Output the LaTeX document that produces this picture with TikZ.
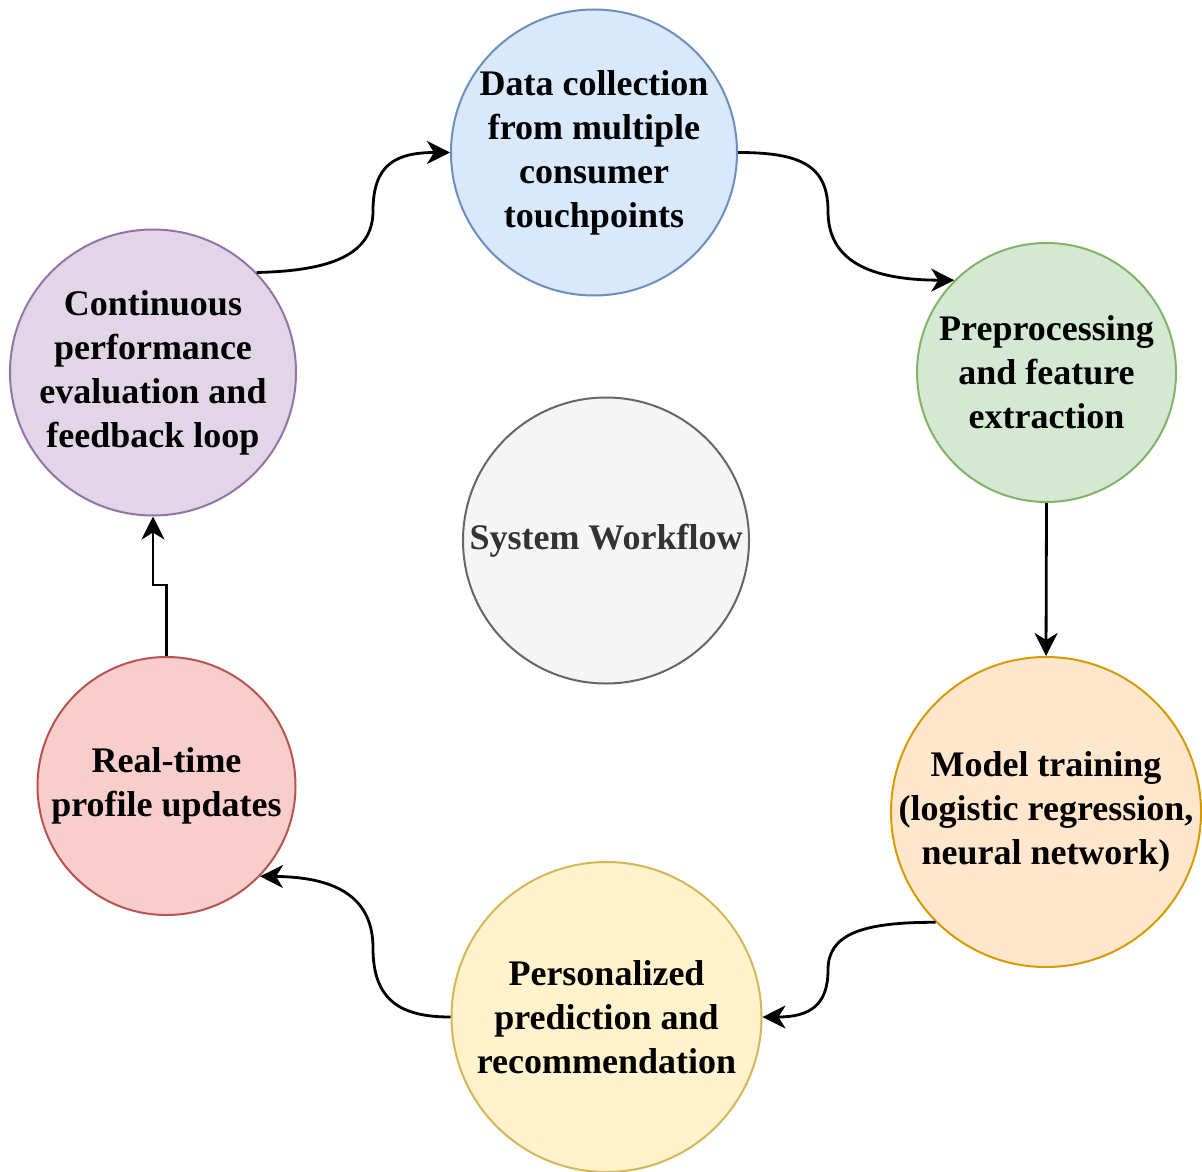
\documentclass[tikz,border=0pt]{standalone}
\usepackage{fontspec}
\setmainfont{Liberation Serif}
\usetikzlibrary{arrows.meta}

\definecolor{blueF}{HTML}{DAE8FC}\definecolor{blueD}{HTML}{6C8EBF}
\definecolor{greenF}{HTML}{D5E8D4}\definecolor{greenD}{HTML}{82B366}
\definecolor{orangeF}{HTML}{FFE6CC}\definecolor{orangeD}{HTML}{D79B00}
\definecolor{yellowF}{HTML}{FFF2CC}\definecolor{yellowD}{HTML}{D6B656}
\definecolor{redF}{HTML}{F8CECC}\definecolor{redD}{HTML}{B85450}
\definecolor{purpleF}{HTML}{E1D5E7}\definecolor{purpleD}{HTML}{9673A6}
\definecolor{grayF}{HTML}{F5F5F5}\definecolor{grayD}{HTML}{666666}
\definecolor{grayT}{HTML}{333333}

\tikzset{
  stage/.style={circle, draw=#1D, fill=#1F, line width=1pt, inner sep=-12pt,
    align=center, font=\bfseries\fontsize{18pt}{22pt}\selectfont},
  arr/.style={line width=1.4pt, -{Stealth[length=11.5pt,width=11.5pt,inset=3.5pt]}},
}

\begin{document}
\begin{tikzpicture}[x=0.5pt, y=-0.5pt]
\useasboundingbox (0,0) rectangle (1202,1171);

% workflow stages
\node[stage=blue,   minimum size=143pt]   (data) at (594,152.5)  {Data collection\\from multiple\\consumer\\touchpoints};
\node[stage=green,  minimum size=129.5pt] (prep) at (1046.5,372.5) {Preprocessing\\and feature\\extraction};
\node[stage=orange, minimum size=155pt]   (model) at (1046,812)  {Model training\\(logistic regression,\\neural network)};
\node[stage=yellow, minimum size=155pt]   (pers) at (606.5,1017) {Personalized\\prediction and\\recommendation};
\node[stage=red,    minimum size=129pt]   (rt) at (166.5,786)    {Real-time\\profile updates};
\node[stage=purple, minimum size=143pt]   (cont) at (153,372.5)  {Continuous\\performance\\evaluation and\\feedback loop};
\node[stage=gray,   minimum size=143pt, text=grayT] (sys) at (606,540.5) {System Workflow};

% bend points of the curved connectors
\coordinate (m1) at (373,211);
\coordinate (m2) at (828,211);
\coordinate (m3) at (828,970);
\coordinate (m4) at (373,948);

% connectors
\draw[arr] (cont.44) .. controls (330,271) and (373,255) .. (m1)
                     .. controls (373,165) and (395,152.5) .. (data.west);
\draw[arr] (data.east) .. controls (800,152.5) and (828,165) .. (m2)
                       .. controls (828,255) and (860,280) .. (prep.135);
\draw[arr] (prep.south) -- (model.north);
\draw[arr] (model.225) .. controls (860,922) and (828,935) .. (m3)
                       .. controls (828,1005) and (810,1017) .. (pers.east);
\draw[arr] (pers.west) .. controls (400,1017) and (373,1000) .. (m4)
                       .. controls (373,900) and (340,877) .. (rt.316);
\draw[arr] (rt.north) -- ++(0,-71) -| (cont.south);
\end{tikzpicture}
\end{document}
